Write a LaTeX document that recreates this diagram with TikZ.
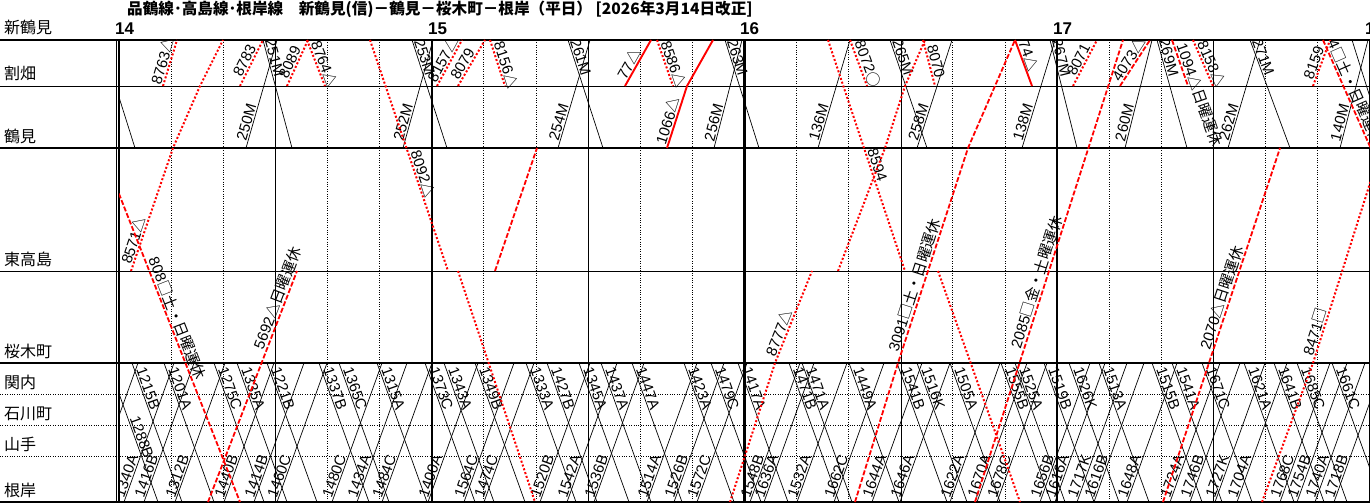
\documentclass[tikz,border=0pt]{standalone}
\usepackage{fontspec}
\setmainfont{Liberation Sans}
\newfontfamily\jp{Noto Sans CJK JP}
\usetikzlibrary{positioning}

\begin{document}
\begin{tikzpicture}[x=1pt,y=-1pt,
  psg/.style={line width=.7pt},
  frt/.style={red,line width=2pt,dash pattern=on 2pt off 2pt},
  frtd/.style={red,line width=1.8pt,dash pattern=on 5pt off 2pt},
  frts/.style={red,line width=1.9pt},
  dots/.style={line width=.8pt,dash pattern=on .8pt off 1.6pt},
  lbl/.style={sloped,above,inner sep=1pt,text=black,font=\fontsize{15}{15}\selectfont},
  stn/.style={anchor=base west,inner sep=0pt,font=\jp\fontsize{16}{16}\selectfont},
  hr/.style={anchor=base west,inner sep=0pt,font=\fontsize{17}{17}\bfseries}]
\useasboundingbox (0,0) rectangle (1370,503);
\fill[white] (0,0) rectangle (1370,503);

% title, hours, stations
\node[anchor=base west,inner sep=0pt,font=\jp\fontsize{15.6}{15.6}\bfseries] (title) at (127,15) {品鶴線･高島線･根岸線　新鶴見(信)－鶴見－桜木町－根岸（平日） [2026年3月14日改正]};
\node[hr] (h14) at (115,35) {14};
\node[hr] (h15) at (428,35) {15};
\node[hr] (h16) at (740,35) {16};
\node[hr] (h17) at (1053,35) {17};
\node[hr] (h18) at (1365,35) {18};
\node[stn] (sShin) at (4,34) {新鶴見};
\node[stn] (sWari) at (4,80) {割畑};
\node[stn] (sTsu) at (4,142) {鶴見};
\node[stn] (sHig) at (4,265) {東高島};
\node[stn] (sSak) at (4,357) {桜木町};
\node[stn] (sKan) at (4,388) {関内};
\node[stn] (sIsh) at (4,419) {石川町};
\node[stn] (sYam) at (4,450) {山手};
\node[stn] (sNeg) at (4,496) {根岸};

% grid
\foreach \h in {0,...,3} {
  \draw ({119+312.7*\h+156.35},40) -- ++(0,462);
  \foreach \m in {1,2,4,5}
    \draw[dots] ({119+312.7*\h+52.12*\m},40) -- ++(0,462);
}
\draw (0,86) -- (1370,86);
\draw (0,271) -- (1370,271);
\draw[line width=1.2pt] (0,363) -- (1370,363);
\draw[dots] (0,394) -- (1370,394);
\draw[dots] (0,425) -- (1370,425);
\draw[dots] (0,456) -- (1370,456);
\draw[line width=2.4pt] (0,40) -- (1370,40);
\draw[line width=2.4pt] (0,148) -- (1370,148);
\draw[line width=2.4pt] (0,502) -- (1370,502);
\draw (116,40) -- (116,502);
\foreach \h in {0,...,4}
  \draw[line width=2.2pt] ({119+312.7*\h},40) -- ++(0,462);

\begin{scope}
\clip (119,40) rectangle (1370,502);
% passenger trains, Shin-Tsurumi - Tsurumi
\draw[psg] (101,40) -- (135,148);
\draw[psg] (263,40) -- (292,148) node[lbl,pos=.18] (m251) {251M};
\draw[psg] (412,40) -- (447,148) node[lbl,pos=.18] (m253) {253M};
\draw[psg] (568,40) -- (603,148) node[lbl,pos=.18] (m261) {261M};
\draw[psg] (725,40) -- (759,148) node[lbl,pos=.18] (m263) {263M};
\draw[psg] (890,40) -- (927,148) node[lbl,pos=.18] (m265) {265M};
\draw[psg] (1050,40) -- (1077,148) node[lbl,pos=.18] (m267) {267M};
\draw[psg] (1157,40) -- (1187,148) node[lbl,pos=.18] (m269) {269M};
\draw[psg] (1250,40) -- (1290,148) node[lbl,pos=.18] (m271) {271M};
\draw[psg] (1352,40) -- (1386,148);
\draw[psg] (246,148) -- (277,40) node[lbl,pos=.22] (m250) {250M};
\draw[psg] (403,148) -- (433,40) node[lbl,pos=.22] (m252) {252M};
\draw[psg] (558,148) -- (590,40) node[lbl,pos=.22] (m254) {254M};
\draw[psg] (714,148) -- (742,40) node[lbl,pos=.22] (m256) {256M};
\draw[psg] (818,148) -- (850,40) node[lbl,pos=.22] (m136) {136M};
\draw[psg] (917,148) -- (952,40) node[lbl,pos=.22] (m258) {258M};
\draw[psg] (1022,148) -- (1055,40) node[lbl,pos=.22] (m138) {138M};
\draw[psg] (1125,148) -- (1152,40) node[lbl,pos=.22] (m260) {260M};
\draw[psg] (1228,148) -- (1260,40) node[lbl,pos=.22] (m262) {262M};
\draw[psg] (1340,148) -- (1368,40) node[lbl,pos=.22] (m140) {140M};

% passenger trains, Sakuragicho - Negishi
\draw[psg] (108,363) -- ++(50,139) node[lbl,pos=.55] (d1288) {1288B};
\draw[psg] (132,363) -- ++(50,139) node[lbl,pos=.2] (d1215) {1215B};
\draw[psg] (164,363) -- ++(50,139) node[lbl,pos=.2] (d1201) {1201A};
\draw[psg] (214,363) -- ++(50,139) node[lbl,pos=.2] (d1275) {1275C};
\draw[psg] (237,363) -- ++(50,139) node[lbl,pos=.2] (d1335) {1335A};
\draw[psg] (267,363) -- ++(50,139) node[lbl,pos=.2] (d1221) {1221B};
\draw[psg] (319,363) -- ++(50,139) node[lbl,pos=.2] (d1337) {1337B};
\draw[psg] (339,363) -- ++(50,139) node[lbl,pos=.2] (d1365) {1365C};
\draw[psg] (377,363) -- ++(50,139) node[lbl,pos=.2] (d1315) {1315A};
\draw[psg] (425,363) -- ++(50,139) node[lbl,pos=.2] (d1373) {1373C};
\draw[psg] (444,363) -- ++(50,139) node[lbl,pos=.2] (d1343) {1343A};
\draw[psg] (475,363) -- ++(50,139) node[lbl,pos=.2] (d1349) {1349B};
\draw[psg] (526,363) -- ++(50,139) node[lbl,pos=.2] (d1333) {1333A};
\draw[psg] (547,363) -- ++(50,139) node[lbl,pos=.2] (d1427) {1427B};
\draw[psg] (579,363) -- ++(50,139) node[lbl,pos=.2] (d1345) {1345A};
\draw[psg] (601,363) -- ++(50,139) node[lbl,pos=.2] (d1437) {1437A};
\draw[psg] (632,363) -- ++(50,139) node[lbl,pos=.2] (d1447) {1447A};
\draw[psg] (684,363) -- ++(50,139) node[lbl,pos=.2] (d1423) {1423A};
\draw[psg] (711,363) -- ++(50,139) node[lbl,pos=.2] (d1479) {1479C};
\draw[psg] (738,363) -- ++(50,139) node[lbl,pos=.2] (d1417) {1417A};
\draw[psg] (789,363) -- ++(50,139) node[lbl,pos=.2] (d1471b) {1471B};
\draw[psg] (802,363) -- ++(50,139) node[lbl,pos=.2] (d1471a) {1471A};
\draw[psg] (849,363) -- ++(50,139) node[lbl,pos=.2] (d1449) {1449A};
\draw[psg] (897,363) -- ++(50,139) node[lbl,pos=.2] (d1541b) {1541B};
\draw[psg] (917,363) -- ++(50,139) node[lbl,pos=.2] (d1516) {1516K};
\draw[psg] (950,363) -- ++(50,139) node[lbl,pos=.2] (d1505) {1505A};
\draw[psg] (1001,363) -- ++(50,139) node[lbl,pos=.2] (d1555) {1555B};
\draw[psg] (1015,363) -- ++(50,139) node[lbl,pos=.2] (d1525) {1525A};
\draw[psg] (1044,363) -- ++(50,139) node[lbl,pos=.2] (d1519) {1519B};
\draw[psg] (1069,363) -- ++(50,139) node[lbl,pos=.2] (d1626) {1626K};
\draw[psg] (1099,363) -- ++(50,139) node[lbl,pos=.2] (d1513) {1513A};
\draw[psg] (1152,363) -- ++(50,139) node[lbl,pos=.2] (d1515) {1515B};
\draw[psg] (1172,363) -- ++(50,139) node[lbl,pos=.2] (d1541a) {1541A};
\draw[psg] (1202,363) -- ++(50,139) node[lbl,pos=.2] (d1671) {1671C};
\draw[psg] (1244,363) -- ++(50,139) node[lbl,pos=.2] (d1621) {1621A};
\draw[psg] (1274,363) -- ++(50,139) node[lbl,pos=.2] (d1641) {1641B};
\draw[psg] (1297,363) -- ++(50,139) node[lbl,pos=.2] (d1685) {1685C};
\draw[psg] (1332,363) -- ++(50,139) node[lbl,pos=.2] (d1661) {1661C};
\draw[psg] (88,502) -- ++(50,-139);
\draw[psg] (124,502) -- ++(50,-139) node[lbl,pos=.17] (u1340) {1340A};
\draw[psg] (144,502) -- ++(50,-139) node[lbl,pos=.17] (u1416) {1416B};
\draw[psg] (175,502) -- ++(50,-139) node[lbl,pos=.17] (u1312) {1312B};
\draw[psg] (224,502) -- ++(50,-139) node[lbl,pos=.17] (u1440) {1440B};
\draw[psg] (254,502) -- ++(50,-139) node[lbl,pos=.17] (u1414) {1414B};
\draw[psg] (277,502) -- ++(50,-139) node[lbl,pos=.17] (u1460) {1460C};
\draw[psg] (332,502) -- ++(50,-139) node[lbl,pos=.17] (u1480) {1480C};
\draw[psg] (357,502) -- ++(50,-139) node[lbl,pos=.17] (u1434) {1434A};
\draw[psg] (382,502) -- ++(50,-139) node[lbl,pos=.17] (u1484) {1484C};
\draw[psg] (428,502) -- ++(50,-139) node[lbl,pos=.17] (u1400) {1400A};
\draw[psg] (464,502) -- ++(50,-139) node[lbl,pos=.17] (u1564) {1564C};
\draw[psg] (484,502) -- ++(50,-139) node[lbl,pos=.17] (u1474) {1474C};
\draw[psg] (540,502) -- ++(50,-139) node[lbl,pos=.17] (u1520) {1520B};
\draw[psg] (567,502) -- ++(50,-139) node[lbl,pos=.17] (u1542) {1542A};
\draw[psg] (594,502) -- ++(50,-139) node[lbl,pos=.17] (u1536) {1536B};
\draw[psg] (647,502) -- ++(50,-139) node[lbl,pos=.17] (u1514) {1514A};
\draw[psg] (674,502) -- ++(50,-139) node[lbl,pos=.17] (u1526) {1526B};
\draw[psg] (697,502) -- ++(50,-139) node[lbl,pos=.17] (u1572) {1572C};
\draw[psg] (750,502) -- ++(50,-139) node[lbl,pos=.17] (u1548) {1548B};
\draw[psg] (764,502) -- ++(50,-139) node[lbl,pos=.17] (u1636) {1636A};
\draw[psg] (797,502) -- ++(50,-139) node[lbl,pos=.17] (u1532) {1532A};
\draw[psg] (834,502) -- ++(50,-139) node[lbl,pos=.17] (u1662) {1662C};
\draw[psg] (872,502) -- ++(50,-139) node[lbl,pos=.17] (u1644) {1644A};
\draw[psg] (900,502) -- ++(50,-139) node[lbl,pos=.17] (u1646) {1646A};
\draw[psg] (950,502) -- ++(50,-139) node[lbl,pos=.17] (u1622) {1622A};
\draw[psg] (977,502) -- ++(50,-139) node[lbl,pos=.17] (u1670) {1670A};
\draw[psg] (997,502) -- ++(50,-139) node[lbl,pos=.17] (u1678) {1678C};
\draw[psg] (1040,502) -- ++(50,-139) node[lbl,pos=.17] (u1656) {1656B};
\draw[psg] (1055,502) -- ++(50,-139) node[lbl,pos=.17] (u1616a) {1616A};
\draw[psg] (1077,502) -- ++(50,-139) node[lbl,pos=.17] (u1717) {1717K};
\draw[psg] (1094,502) -- ++(50,-139) node[lbl,pos=.17] (u1616b) {1616B};
\draw[psg] (1127,502) -- ++(50,-139) node[lbl,pos=.17] (u1648) {1648A};
\draw[psg] (1170,502) -- ++(50,-139) node[lbl,pos=.17] (u1724) {1724A};
\draw[psg] (1190,502) -- ++(50,-139) node[lbl,pos=.17] (u1746) {1746B};
\draw[psg] (1215,502) -- ++(50,-139) node[lbl,pos=.17] (u1727) {1727K};
\draw[psg] (1237,502) -- ++(50,-139) node[lbl,pos=.17] (u1704) {1704A};
\draw[psg] (1280,502) -- ++(50,-139) node[lbl,pos=.17] (u1768) {1768C};
\draw[psg] (1297,502) -- ++(50,-139) node[lbl,pos=.17] (u1754) {1754B};
\draw[psg] (1315,502) -- ++(50,-139) node[lbl,pos=.17] (u1740) {1740A};
\draw[psg] (1334,502) -- ++(50,-139) node[lbl,pos=.17] (u1718) {1718B};

% freight trains
\draw[frt] (163,86) -- (177,40) node[lbl,pos=.5] (f8763) {8763{\jp △}};
\draw[frt] (131,271) -- node[lbl,pos=.23] (f8571) {8571{\jp △}} (173,148) -- (200,86) -- (223,40);
\draw[frt] (240,86) -- (263,40) node[lbl,pos=.48] (f8783) {8783};
\draw[frt] (287,86) -- (308,40) node[lbl,pos=.45] (f8089) {8089};
\draw[frt] (307,40) -- (325,86) node[lbl,pos=.58] (f8764) {8764{\jp △}};
\draw[frt] (370,40) -- (448,271) node[lbl,pos=.59] (f8092) {8092{\jp △}};
\draw[frt] (458,271) -- (535,502);
\draw[frt] (437,86) -- (462,40) node[lbl,pos=.5] (f8157) {8157{\jp △}};
\draw[frt] (458,86) -- (485,40) node[lbl,pos=.4] (f8079) {8079};
\draw[frt] (490,40) -- (505,86) node[lbl,pos=.6] (f8156) {8156{\jp △}};
\draw[frt] (657,40) -- (673,86) node[lbl,pos=.58] (f8586) {8586{\jp △}};
\draw[frt] (828,40) -- (905,271) node[lbl,pos=.55] (f8594) {8594};
\draw[frt] (938,271) -- (1020,502);
\draw[frt] (850,40) -- (867,86) node[lbl,pos=.58] (f8072) {8072{\jp ○}};
\draw[frt] (730,502) -- (775,363) -- node[lbl,pos=.3] (f8777) {8777{\jp △}} (812,271);
\draw[frt] (838,271) -- (885,148) -- (905,86) -- (925,40);
\draw[frt] (923,40) -- (935,86) node[lbl,pos=.5] (f8070) {8070};
\draw[frt] (1073,86) -- (1097,40) node[lbl,pos=.5] (f8071) {8071};
\draw[frt] (1193,40) -- (1213,86) node[lbl,pos=.58] (f8158) {8158{\jp △}};
\draw[frt] (1313,86) -- (1330,40) node[lbl,pos=.45] (f8159) {8159};
\draw[frt] (1262,502) -- (1313,363) -- node[lbl,pos=.16] (f8471) {8471{\jp □}} (1371,180);
\draw[frtd] (101,148) -- (240,502) node[lbl,pos=.49] (f808) {808{\jp □土・日曜運休}};
\draw[frtd] (208,502) -- (297,271) node[lbl,pos=.87] (f5692) {5692{\jp △日曜運休}};
\draw[frtd] (495,271) -- (537,148);
\draw[frtd] (855,502) -- (898,363) -- node[lbl,pos=.35] (f3091) {3091{\jp □土・日曜運休}} (968,148) -- (1015,40);
\draw[frtd] (975,502) -- (1123,40) node[lbl,pos=.47] (f2085) {2085{\jp □金・土曜運休}};
\draw[frtd] (1120,86) -- (1150,40) node[lbl,pos=.5] (f4073) {4073{\jp △}};
\draw[frtd] (1172,40) -- (1188,86);
\path (1172,40) -- (1212,155) node[lbl,pos=.5] (f1094) {1094{\jp △日曜運休}};
\draw[frtd] (1163,502) -- (1280,148) node[lbl,pos=.57] (f2070) {2070{\jp △日曜運休}};
\draw[frtd] (1323,40) -- (1390,192) node[lbl,pos=.34] (f84) {84{\jp □土・日曜運休}};
\draw[frts] (625,86) -- (651,40) node[lbl,pos=.4] (f77) {77{\jp △}};
\draw[frts] (667,148) -- node[lbl,pos=.4] (f1066) {1066{\jp △}} (687,86) -- (713,40);
\draw[frts] (1015,40) -- (1032,86) node[lbl,pos=.4] (f74) {74{\jp △}};
\end{scope}
\end{tikzpicture}
\end{document}
